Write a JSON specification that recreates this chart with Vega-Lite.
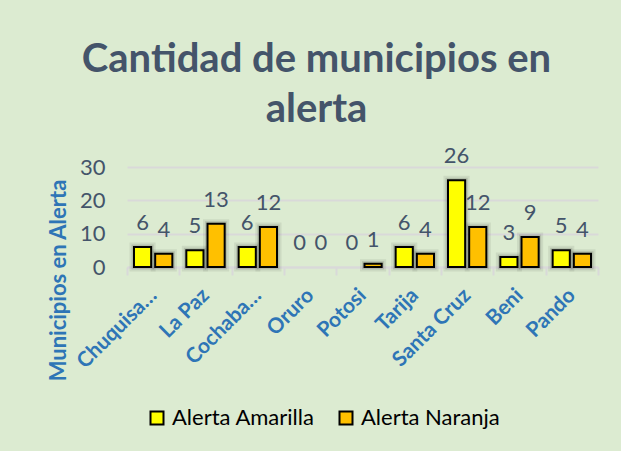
{
  "$schema": "https://vega.github.io/schema/vega-lite/v6.json",
  "width": 471,
  "height": 100,
  "autosize": {"type": "none"},
  "padding": {"left": 127, "top": 167, "right": 23, "bottom": 184},
  "background": "#dcebd1",
  "title": {
    "text": ["Cantidad de municipios en", "alerta"],
    "fontSize": 40,
    "font": "Lato",
    "fontWeight": "bold",
    "color": "#44546A",
    "lineHeight": 50,
    "anchor": "middle",
    "frame": "group",
    "dx": -46,
    "offset": 15
  },
  "config": {"view": {"stroke": null}},
  "data": {
    "values": [
      {"Departamento": "Chuquisaca", "Alerta": "Alerta Amarilla", "Municipios": 6},
      {"Departamento": "Chuquisaca", "Alerta": "Alerta Naranja", "Municipios": 4},
      {"Departamento": "La Paz", "Alerta": "Alerta Amarilla", "Municipios": 5},
      {"Departamento": "La Paz", "Alerta": "Alerta Naranja", "Municipios": 13},
      {"Departamento": "Cochabamba", "Alerta": "Alerta Amarilla", "Municipios": 6},
      {"Departamento": "Cochabamba", "Alerta": "Alerta Naranja", "Municipios": 12},
      {"Departamento": "Oruro", "Alerta": "Alerta Amarilla", "Municipios": 0},
      {"Departamento": "Oruro", "Alerta": "Alerta Naranja", "Municipios": 0},
      {"Departamento": "Potosi", "Alerta": "Alerta Amarilla", "Municipios": 0},
      {"Departamento": "Potosi", "Alerta": "Alerta Naranja", "Municipios": 1},
      {"Departamento": "Tarija", "Alerta": "Alerta Amarilla", "Municipios": 6},
      {"Departamento": "Tarija", "Alerta": "Alerta Naranja", "Municipios": 4},
      {"Departamento": "Santa Cruz", "Alerta": "Alerta Amarilla", "Municipios": 26},
      {"Departamento": "Santa Cruz", "Alerta": "Alerta Naranja", "Municipios": 12},
      {"Departamento": "Beni", "Alerta": "Alerta Amarilla", "Municipios": 3},
      {"Departamento": "Beni", "Alerta": "Alerta Naranja", "Municipios": 9},
      {"Departamento": "Pando", "Alerta": "Alerta Amarilla", "Municipios": 5},
      {"Departamento": "Pando", "Alerta": "Alerta Naranja", "Municipios": 4}
    ]
  },
  "encoding": {
    "x": {
      "field": "Departamento",
      "type": "nominal",
      "sort": ["Chuquisaca", "La Paz", "Cochabamba", "Oruro", "Potosi", "Tarija", "Santa Cruz", "Beni", "Pando"],
      "scale": {"paddingInner": 0, "paddingOuter": 0},
      "axis": {
        "title": null,
        "labelAngle": -45,
        "labelAlign": "right",
        "labelBaseline": "middle",
        "labelFont": "Lato",
        "labelFontSize": 21,
        "labelFontWeight": "bold",
        "labelColor": "#2E75B6",
        "labelPadding": 17,
        "labelExpr": "datum.label == 'Chuquisaca' ? 'Chuquisa…' : datum.label == 'Cochabamba' ? 'Cochaba…' : datum.label",
        "tickBand": "extent",
        "tickColor": "#d9d9d9",
        "tickWidth": 2,
        "tickSize": 8,
        "domainColor": "#d9d9d9",
        "domainWidth": 2,
        "grid": false
      }
    },
    "xOffset": {
      "field": "Alerta",
      "type": "nominal",
      "scale": {"paddingInner": 0.19, "paddingOuter": 0.33}
    },
    "y": {
      "field": "Municipios",
      "type": "quantitative",
      "scale": {"domain": [0, 30]},
      "axis": {
        "title": "Municipios en Alerta",
        "titleFont": "Lato",
        "titleFontSize": 22,
        "titleFontWeight": "bold",
        "titleColor": "#2E75B6",
        "titleY": 113,
        "titlePadding": 9,
        "values": [0, 10, 20, 30],
        "domain": false,
        "ticks": false,
        "labelFont": "Lato",
        "labelFontSize": 22,
        "labelColor": "#44546A",
        "labelPadding": 22,
        "gridColor": "#d9d9d9",
        "gridWidth": 2
      }
    }
  },
  "layer": [
    {
      "transform": [{"filter": "datum.Municipios > 0"}],
      "mark": {"type": "bar", "fill": null, "stroke": "black", "strokeWidth": 9, "strokeOpacity": 0.07},
      "encoding": {}
    },
    {
      "transform": [{"filter": "datum.Municipios > 0"}],
      "mark": {"type": "bar", "fill": null, "stroke": "black", "strokeWidth": 5, "strokeOpacity": 0.12},
      "encoding": {}
    },
    {
      "transform": [{"filter": "datum.Municipios > 0"}],
      "mark": {"type": "bar", "stroke": "black", "strokeWidth": 2},
      "encoding": {
        "fill": {
          "field": "Alerta",
          "type": "nominal",
          "scale": {"range": ["#FFFF00", "#FFC000"]},
          "legend": {
            "title": null,
            "orient": "none",
            "legendX": 19,
            "legendY": 240,
            "direction": "horizontal",
            "symbolType": "square",
            "symbolSize": 169,
            "symbolStrokeColor": "black",
            "symbolStrokeWidth": 2,
            "labelFont": "Lato",
            "labelFontSize": 22,
            "labelColor": "#000000",
            "columnPadding": 20,
            "labelOffset": 4
          }
        }
      }
    },
    {
      "mark": {"type": "text", "dy": -24, "fontSize": 22, "font": "Lato", "color": "#44546A"},
      "encoding": {"text": {"field": "Municipios", "type": "quantitative"}}
    }
  ]
}
